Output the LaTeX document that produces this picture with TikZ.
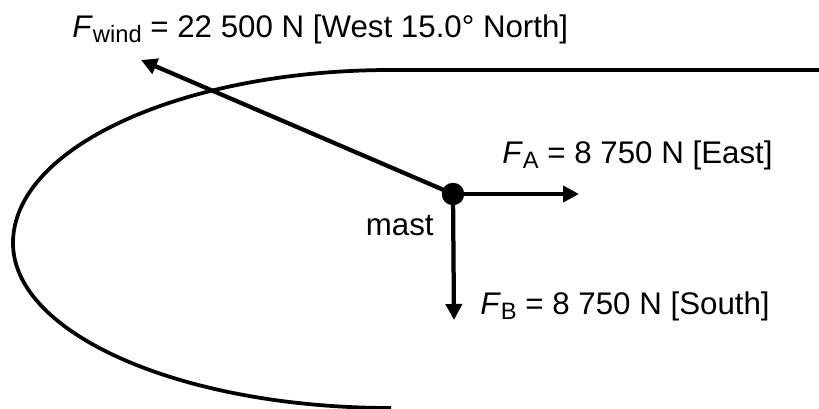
\documentclass[tikz,border=0pt]{standalone}
\usepackage{fontspec}
\setmainfont{Liberation Sans}
\usetikzlibrary{arrows.meta}

\newcommand{\forcesub}[1]{\raisebox{-3.2pt}{\fontsize{13.5}{14}\selectfont #1}}

\begin{document}
\begin{tikzpicture}[
    x=0.02cm, y=-0.02cm,
    font=\fontsize{17.8}{21}\selectfont,
    >={Triangle[length=0.32cm, width=0.32cm]},
    hull/.style={line width=0.075cm},
    force/.style={->, line width=0.085cm},
    label/.style={anchor=base west, inner sep=0pt}
]
\useasboundingbox (0,0) rectangle (819,409);

% Hull outline
\draw[hull] (819,70) -- (391,70)
    arc[start angle=-90, end angle=-180, x radius=378, y radius=173]
    arc[start angle=-180, end angle=-270, x radius=378, y radius=165];

% Mast and forces
\node[circle, fill, inner sep=0pt, minimum size=0.45cm] (mast) at (453,194) {};
\coordinate (tipwind) at (141,60);
\coordinate (tipA) at (579,194);
\coordinate (tipB) at (454,320);

\draw[force] (mast.center) -- (tipwind);
\draw[force] (mast.center) -- (tipA);
\draw[force] (mast.center) -- (tipB);

% Labels
\node[label] (lblwind) at (72,37) {\textit{F}\forcesub{wind} = 22 500 N [West 15.0° North]};
\node[label] (lblA) at (502,163) {\textit{F}\forcesub{A} = 8 750 N [East]};
\node[label] (lblB) at (480,314) {\textit{F}\forcesub{B} = 8 750 N [South]};
\node[anchor=base east, inner sep=0pt] (lblmast) at (434,235) {mast};

\end{tikzpicture}
\end{document}
